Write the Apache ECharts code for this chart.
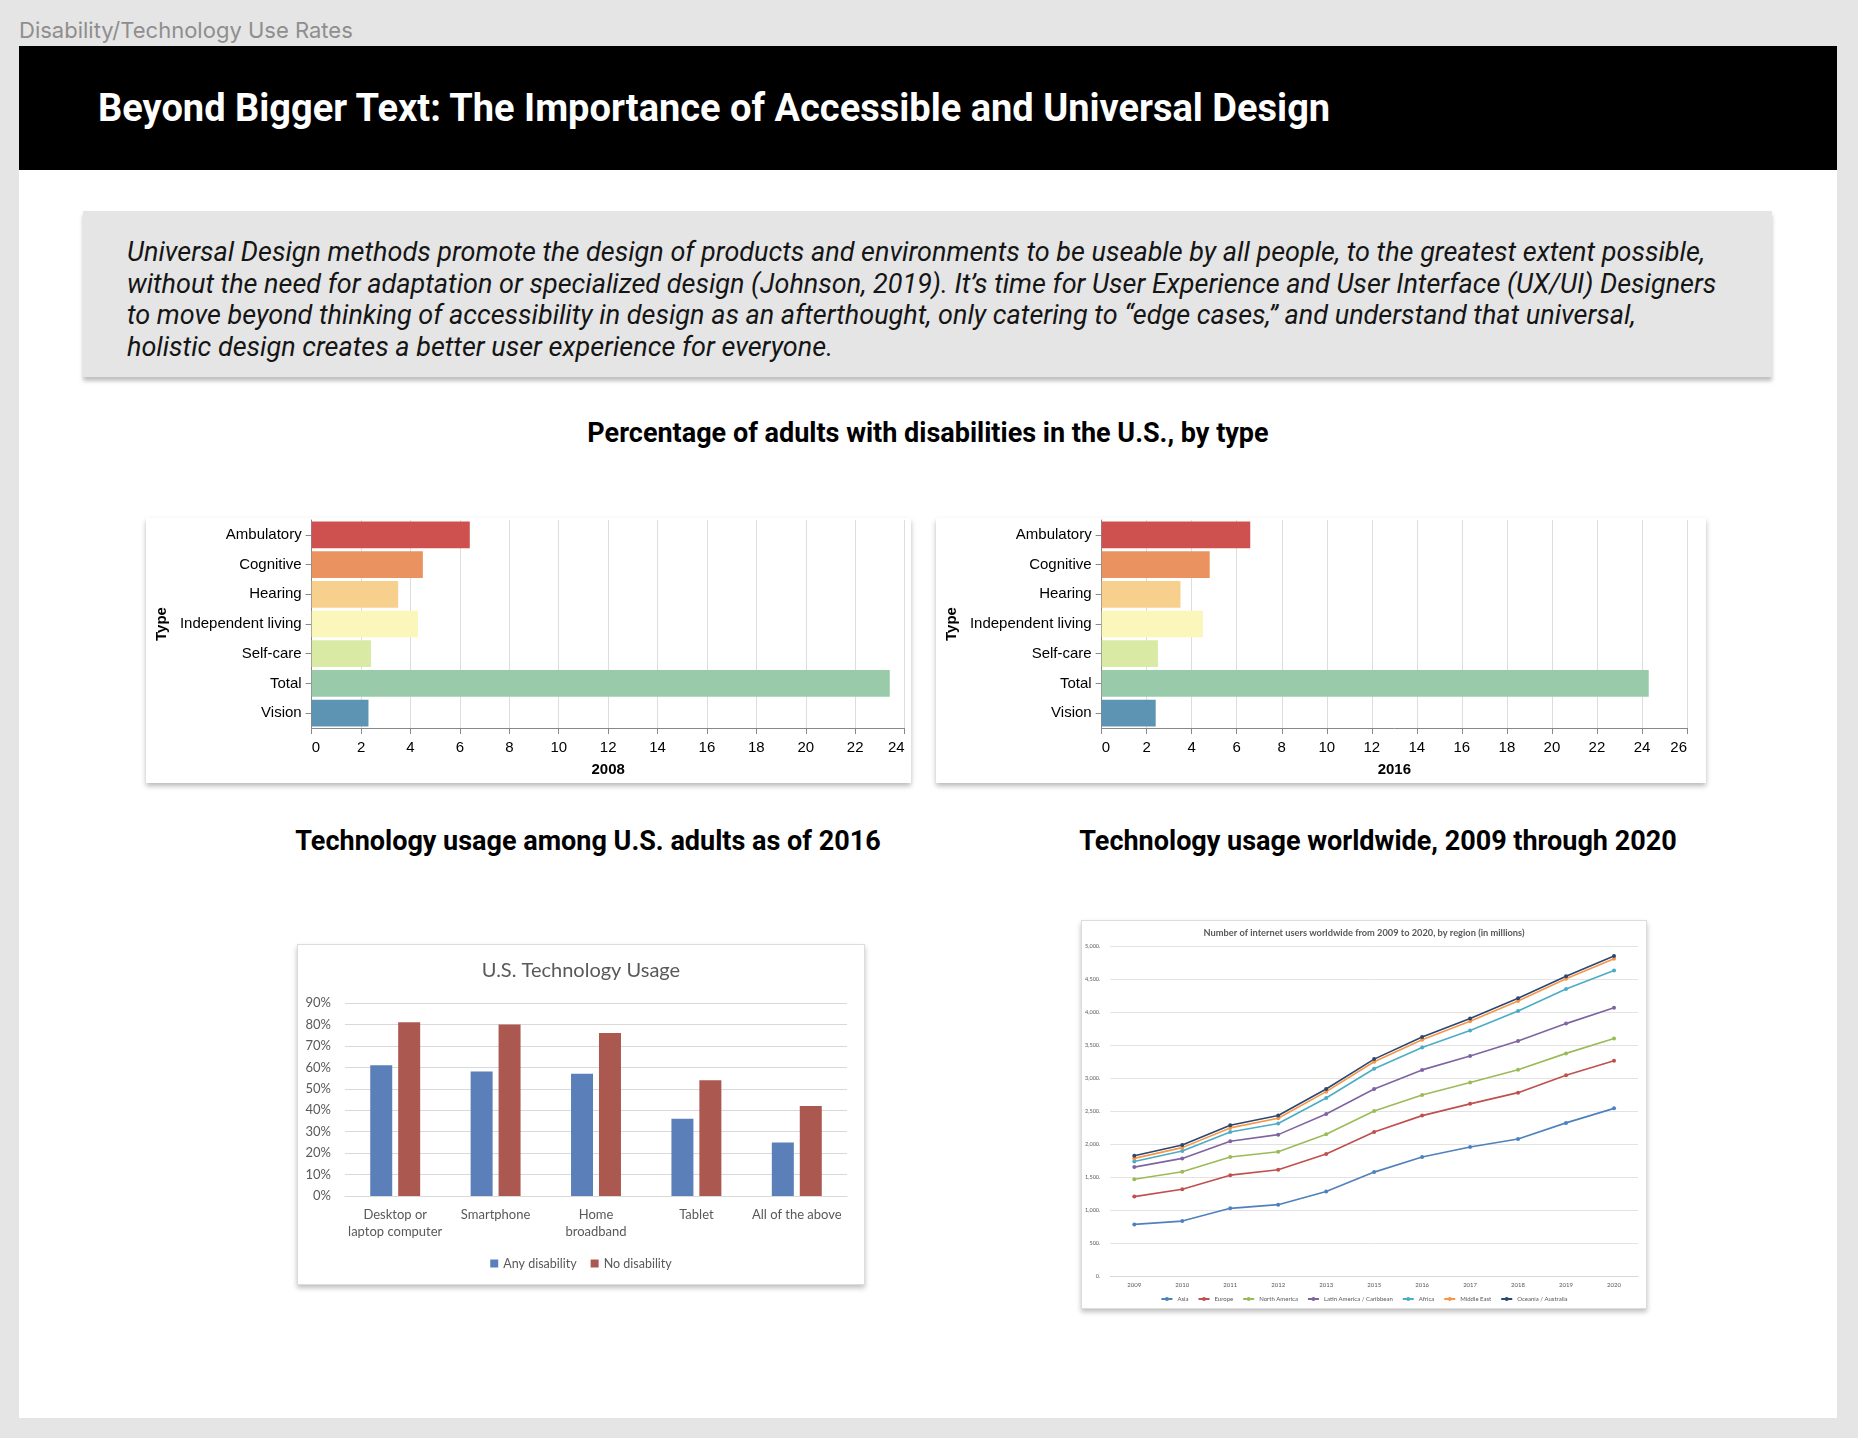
<!DOCTYPE html>
<html><head><meta charset="utf-8">
<script src="https://cdn.jsdelivr.net/npm/echarts@6/dist/echarts.min.js"></script>
<style>
html,body{margin:0;padding:0;}
body{width:1858px;height:1438px;background:#e5e5e5;position:relative;overflow:hidden;font-family:Roboto,sans-serif;}
.abs{position:absolute;}
#frameLabel{left:19px;top:16px;font-family:Inter,sans-serif;font-size:22px;color:#8e8e8e;line-height:28px;white-space:nowrap;}
#band{left:19px;top:46px;width:1818px;height:124px;background:#000;}
#title{left:98px;top:46px;height:124px;line-height:124px;font-size:38px;font-weight:700;color:#fff;white-space:nowrap;}
#panel{left:19px;top:170px;width:1818px;height:1248px;background:#fff;}
#quote{left:83px;top:211px;width:1689px;height:166px;background:#e5e5e5;box-shadow:0 4px 4px rgba(0,0,0,0.25);}
#quoteText{left:127px;top:237px;font-style:italic;font-size:27px;line-height:31.6px;white-space:nowrap;color:#151515;}
.heading{font-weight:700;font-size:27px;line-height:30px;color:#000;white-space:nowrap;transform:translateX(-50%);}
.card{background:#fff;box-shadow:0 3px 5px rgba(0,0,0,0.28);}
.xcard{background:#fff;border:1px solid #dcdcdc;box-sizing:border-box;box-shadow:0 3px 5px rgba(0,0,0,0.25);}
</style>
</head>
<body>
<div class="abs" id="frameLabel">Disability/Technology Use Rates</div>
<div class="abs" id="band"></div>
<div class="abs" id="title">Beyond Bigger Text: The Importance of Accessible and Universal Design</div>
<div class="abs" id="panel"></div>
<div class="abs" id="quote"></div>
<div class="abs" id="quoteText">Universal Design methods promote the design of products and environments to be useable by all people, to the greatest extent possible,<br>without the need for adaptation or specialized design (Johnson, 2019). It’s time for User Experience and User Interface (UX/UI) Designers<br>to move beyond thinking of accessibility in design as an afterthought, only catering to “edge cases,” and understand that universal,<br>holistic design creates a better user experience for everyone.</div>
<div class="abs heading" style="left:928px;top:418px;">Percentage of adults with disabilities in the U.S., by type</div>
<div class="abs heading" style="left:588px;top:826px;">Technology usage among U.S. adults as of 2016</div>
<div class="abs heading" style="left:1378px;top:826px;">Technology usage worldwide, 2009 through 2020</div>

<div class="abs card" id="cA" style="left:146px;top:518px;width:765px;height:265px;"></div>
<div class="abs card" id="cB" style="left:936px;top:518px;width:770px;height:265px;"></div>
<div class="abs xcard" id="cC" style="left:297px;top:944px;width:568px;height:341px;"></div>
<div class="abs xcard" id="cD" style="left:1081px;top:920px;width:566px;height:389px;"></div>

<script>
// ---- Data ----
const types = ['Ambulatory', 'Cognitive', 'Hearing', 'Independent living', 'Self-care', 'Total', 'Vision'];
const pct2008 = [6.4, 4.5, 3.5, 4.3, 2.4, 23.4, 2.3];
const pct2016 = [6.6, 4.8, 3.5, 4.5, 2.5, 24.3, 2.4];

const techCats = ['Desktop or\nlaptop computer', 'Smartphone', 'Home\nbroadband', 'Tablet', 'All of the above'];
const anyDisability = [61, 58, 57, 36, 25];
const noDisability = [81, 80, 76, 54, 42];

const years = ['2009', '2010', '2011', '2012', '2013', '2015', '2016', '2017', '2018', '2019', '2020'];
const regions = ['Asia', 'Europe', 'North America', 'Latin America / Caribbean', 'Africa', 'Middle East', 'Oceania / Australia'];
const asia = [782, 832, 1025, 1081, 1279, 1574, 1802, 1954, 2076, 2320, 2540];
const europe = [421, 483, 503, 528, 569, 609, 628, 654, 702, 722, 723];
const northAmerica = [264, 264, 274, 274, 299, 317, 312, 324, 348, 331, 334];
const latinAmerica = [183, 203, 239, 259, 308, 333, 381, 400, 434, 451, 468];
const africa = [86, 111, 142, 168, 242, 307, 338, 386, 456, 523, 565];
const middleEast = [46, 52, 61, 81, 96, 106, 119, 142, 152, 156, 178];
const oceania = [40, 40, 40, 41, 40, 40, 41, 40, 40, 40, 40];

// ---- Styles ----
const typeColors = ['#ce5150', '#eb9360', '#f8d08d', '#fbf6b9', '#d9eaa5', '#99cbab', '#5e94b3'];
const techColors = ['#5b7fb8', '#ab5850'];
const regionColors = ['#4f81bd', '#c0504d', '#9bbb59', '#8064a2', '#4bacc6', '#f79646', '#2c4770'];
const VF = 'Liberation Sans, Arial, sans-serif';
const XF = 'Lato, Open Sans, sans-serif';

function vegaBar(values, max, year, gridLeft, typeGap) {
  return {
    animation: false,
    color: typeColors,
    grid: { left: gridLeft, top: 2, width: 594, height: 208 },
    xAxis: {
      type: 'value', min: 0, max: max, interval: 2,
      name: year, nameLocation: 'middle', nameGap: 34,
      nameTextStyle: { fontFamily: VF, fontWeight: 'bold', fontSize: 15, color: '#000' },
      axisLine: { show: true, lineStyle: { color: '#888' } },
      axisTick: { show: true, length: 6, lineStyle: { color: '#888' } },
      axisLabel: { fontFamily: VF, fontSize: 15, color: '#000', margin: 12.5, alignMinLabel: 'left', alignMaxLabel: 'right' },
      splitLine: { show: true, lineStyle: { color: '#ddd' } }
    },
    yAxis: {
      type: 'category', data: types, inverse: true,
      name: 'Type', nameLocation: 'middle', nameRotate: 90, nameGap: typeGap,
      nameTextStyle: { fontFamily: VF, fontWeight: 'bold', fontSize: 15, color: '#000' },
      axisLine: { show: true, lineStyle: { color: '#888' } },
      axisTick: { show: true, length: 6, alignWithLabel: true, lineStyle: { color: '#888' } },
      axisLabel: { fontFamily: VF, fontSize: 15, color: '#000', margin: 10 }
    },
    series: [{ type: 'bar', data: values, colorBy: 'data', barCategoryGap: '10%' }]
  };
}

echarts.init(document.getElementById('cA')).setOption(vegaBar(pct2008, 24, '2008', 164.6, 138));
echarts.init(document.getElementById('cB')).setOption(vegaBar(pct2016, 26, '2016', 157, 139));

echarts.init(document.getElementById('cC')).setOption({
  animation: false,
  color: techColors,
  title: { text: 'U.S. Technology Usage', left: 'center', top: 11, textStyle: { fontFamily: XF, fontSize: 20, fontWeight: 'normal', color: '#595959' } },
  grid: { left: 47, top: 58, width: 502, height: 193 },
  legend: { top: 307, left: 'center', itemWidth: 8, itemHeight: 8, itemGap: 14, icon: 'rect',
    textStyle: { fontFamily: XF, fontSize: 12.5, color: '#595959' } },
  xAxis: { type: 'category', data: techCats,
    axisLine: { lineStyle: { color: '#d9d9d9' } }, axisTick: { show: false },
    axisLabel: { interval: 0, fontFamily: XF, fontSize: 13, color: '#595959', lineHeight: 17, margin: 10 } },
  yAxis: { type: 'value', min: 0, max: 90, interval: 10,
    axisLabel: { formatter: '{value}%', fontFamily: XF, fontSize: 13, color: '#595959', margin: 14 },
    splitLine: { lineStyle: { color: '#d9d9d9' } } },
  series: [
    { name: 'Any disability', type: 'bar', data: anyDisability, barWidth: 22, barGap: '27%' },
    { name: 'No disability', type: 'bar', data: noDisability, barWidth: 22 }
  ]
});

const regionData = [asia, europe, northAmerica, latinAmerica, africa, middleEast, oceania];
echarts.init(document.getElementById('cD')).setOption({
  animation: false,
  color: regionColors,
  title: { text: '{a|Number of internet users worldwide from 2009 to 2020, by region }{b|(in millions)}', left: 'center', top: 3,
    textStyle: { rich: { a: { fontFamily: XF, fontSize: 9.25, color: '#595959' }, b: { fontFamily: XF, fontSize: 9.25, fontWeight: 'bold', color: '#595959' } } } },
  grid: { left: 26, top: 25, width: 530, height: 330 },
  legend: { top: 370, left: 'center', itemWidth: 11, itemHeight: 5, itemGap: 9,
    textStyle: { fontFamily: XF, fontSize: 6, color: '#595959' } },
  xAxis: { type: 'category', data: years, boundaryGap: true,
    axisLine: { lineStyle: { color: '#d9d9d9' } }, axisTick: { show: false },
    axisLabel: { fontFamily: XF, fontSize: 6, color: '#595959', margin: 6 } },
  yAxis: { type: 'value', min: 0, max: 5000, interval: 500,
    axisLabel: { formatter: v => v.toLocaleString('en-US') + '.', fontFamily: XF, fontSize: 5.5, color: '#595959', margin: 10 },
    splitLine: { lineStyle: { color: '#e3e3e3' } } },
  series: regions.map((r, i) => ({
    name: r, type: 'line', stack: 'total', data: regionData[i],
    symbol: 'circle', symbolSize: 4, lineStyle: { width: 1.6 }
  }))
});
</script>
</body></html>
